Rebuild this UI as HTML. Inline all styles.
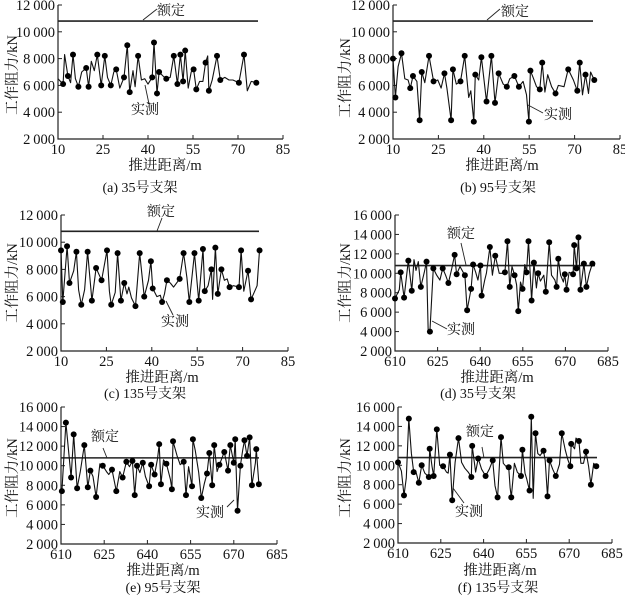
<!DOCTYPE html>
<html><head><meta charset="utf-8">
<style>
html,body{margin:0;padding:0;background:#fff;}
svg{display:block;}
text{font-family:"Liberation Serif","Noto Serif CJK SC",serif;fill:#111;}
</style></head>
<body>
<svg id="c" width="625" height="600" viewBox="0 0 625 600" xmlns="http://www.w3.org/2000/svg"></svg>
<script>
// data: [distance m, resistance kN, marker]
const seriesA=[[10,6500,0],[11.7,6100,1],[12.2,8300,0],[13.3,6700,1],[14.2,6200,0],[15,8300,1],[15.8,6500,0],[16.8,5900,1],[17.9,7000,0],[19.4,7300,1],[20.2,5900,1],[21.1,7800,0],[22.1,7100,0],[23.1,8300,1],[24.4,6000,1],[25.6,8200,1],[26.5,6600,0],[27.6,6000,1],[28.6,7000,0],[29.4,7200,1],[30.6,5800,0],[32,6600,1],[33.1,9000,1],[33.9,5500,1],[35,7100,0],[35.7,5900,0],[36.7,8200,1],[37.8,6400,0],[38.9,6500,0],[40,6100,0],[41.4,6600,1],[42,9200,1],[43,5400,1],[43.7,7000,1],[45,6700,0],[46.1,6500,1],[47.4,6600,0],[48.6,8200,1],[49.8,6100,1],[50.8,8300,1],[51.7,6300,1],[52.4,8600,1],[53.4,5800,0],[54.4,7000,0],[55.2,7200,1],[56.1,5700,1],[57.2,6300,0],[58.3,6300,0],[59.2,7700,1],[59.9,8200,0],[60.3,5600,1],[61.4,6400,0],[63,8200,1],[64.1,6400,1],[65.6,6600,0],[67,6400,0],[68.3,6400,0],[70.3,6200,1],[72,8300,1],[73.1,5600,0],[74.4,6300,0],[76.1,6200,1]];
const seriesB=[[10,8000,1],[10.8,5100,1],[11.7,7400,0],[12.8,8400,1],[13.9,6500,0],[15,6400,0],[15.7,5800,1],[16.6,6700,1],[17.9,6300,0],[18.8,3400,1],[19.5,7000,1],[20.5,6200,0],[21.9,8200,1],[23.4,6300,1],[24.8,6400,0],[25.9,5800,0],[27,6900,1],[27.8,5800,0],[29.2,3400,1],[29.8,7200,1],[30.9,6100,0],[32.3,6300,1],[33.7,8200,1],[35,5100,0],[35.7,5600,0],[36.7,3300,1],[37.2,6800,1],[38.3,6400,0],[39.2,8100,1],[40.9,4800,1],[42.5,8200,1],[43.7,4700,1],[44.9,6900,1],[46.4,6100,0],[47.6,5900,1],[48.6,6500,0],[50.1,6700,1],[51.6,5900,1],[53,6300,0],[54.1,5300,0],[54.9,3300,1],[55.4,7100,1],[56.3,6600,0],[57.4,5900,0],[58.5,5700,1],[59.3,7700,1],[60.2,5500,0],[61.1,6800,0],[62.4,5900,0],[63.7,5400,1],[64.6,6000,0],[66.5,5900,0],[67.9,7200,1],[69.6,6400,0],[70.9,5600,1],[71.7,7700,1],[72.6,5300,0],[73.6,6800,1],[74.6,5400,0],[75.3,7000,0],[76.5,6400,1]];
const seriesC=[[10,9400,1],[10.6,5600,1],[12,9700,1],[12.8,7000,1],[14.2,7900,0],[15.1,9300,1],[15.8,6500,0],[16.7,5400,1],[17.8,6500,0],[18.8,9300,1],[20.2,5700,1],[21.6,8100,1],[23.4,7200,1],[25.2,9400,1],[26,6400,0],[26.6,5400,1],[27.9,6300,0],[28.7,9200,1],[29.8,5700,1],[30.9,7000,1],[31.8,6200,0],[32.4,6700,0],[33.3,5900,0],[34.6,5300,1],[36,9200,1],[37.5,6000,1],[38.9,7200,0],[39.7,8600,1],[40.3,6600,1],[41.7,6000,0],[42.8,6100,0],[43.4,5600,1],[44.2,6200,0],[45,7200,1],[46.1,7000,0],[47.2,6700,0],[49.2,7300,1],[50.5,9200,1],[51.6,7400,0],[52.4,5600,1],[54.1,9200,1],[55.5,5700,1],[56.9,9500,1],[57.5,6400,1],[58.6,6800,0],[59.7,8000,1],[60.1,5800,0],[61,9600,1],[61.8,6200,1],[63,8000,1],[64,7200,0],[64.9,7300,0],[65.7,6700,1],[67,6800,0],[68.8,6700,1],[69.5,9400,1],[70.4,6400,0],[71.8,7900,1],[72.8,5800,1],[74,6400,0],[74.8,6800,0],[75.6,9400,1]];
const seriesD=[[610,7400,1],[611.5,8300,0],[612,10100,1],[613.2,7500,1],[614.7,11300,1],[615.9,8200,1],[616.7,11400,0],[617.4,10300,0],[618.2,11200,0],[619.1,8600,1],[620.3,10100,0],[621.1,11200,1],[621.7,4000,0],[622.3,4000,1],[623.5,10500,1],[624.7,9800,0],[625.8,9300,0],[626.8,10500,1],[627.8,9800,0],[628.8,9000,1],[630,10500,0],[631,11900,1],[631.7,9900,1],[632.9,10700,0],[633.8,10200,0],[634.6,9800,1],[635.4,6200,1],[636.8,8400,1],[637.5,10900,1],[638.4,10100,0],[639.2,9300,0],[640.1,10800,1],[640.5,7700,1],[641.6,9300,0],[642.2,10000,0],[643.4,12700,1],[644.3,9800,0],[645.3,11800,1],[646.7,10000,0],[648.1,10000,0],[648.7,10100,1],[649.6,13300,1],[650.4,8600,1],[651.2,10700,0],[652.1,9800,1],[652.8,8800,0],[653.4,6100,1],[654.2,9100,0],[654.9,8400,1],[655.7,10900,0],[656.3,10100,1],[657,13300,1],[658.1,7200,1],[658.9,11100,1],[659.8,8500,0],[660.4,10000,1],[661.2,9200,0],[662.4,9800,0],[663.1,8100,1],[664.3,13200,1],[665.1,9800,0],[666.3,9300,0],[666.9,8600,1],[667.5,11500,1],[668.3,9800,0],[669.3,9100,0],[669.8,9900,1],[670.4,8300,1],[671.3,10100,0],[672.7,9900,1],[673.1,12900,1],[673.9,10500,1],[674.6,13700,1],[675.3,8300,1],[676.5,11000,1],[677.4,8600,1],[678.4,10000,0],[679.5,11000,1]];
const seriesE=[[610.3,7400,1],[611.7,14400,1],[612.6,11600,0],[613.5,8800,1],[614.4,13200,1],[615.6,7700,1],[616.7,9400,0],[618.1,12100,1],[619.3,7800,1],[620.2,9500,1],[621.1,8900,0],[622.2,6800,1],[623.5,10200,0],[624.5,10000,1],[625.8,9400,0],[626.6,9100,0],[627.7,9600,1],[629.2,7400,1],[630.4,9400,0],[631.4,8800,1],[632.7,10400,1],[633.8,9900,0],[634.8,10500,1],[635.6,7000,1],[636.4,10000,1],[637.4,9300,0],[638.4,10300,1],[639.3,8900,0],[640.6,7900,1],[641.3,10100,1],[642.5,9100,1],[643.5,10700,0],[644.1,12200,1],[644.7,8100,1],[645.6,10600,0],[646.6,10200,1],[648,8600,0],[648.5,7600,1],[648.9,12500,1],[650.3,11000,0],[651.4,10100,0],[652.6,10400,1],[653.4,7000,1],[654.3,9900,0],[655.5,7900,1],[655.8,12700,1],[656.6,11600,0],[657.8,9300,0],[658.7,6700,1],[659.8,8200,0],[660.7,9200,1],[661.5,11300,1],[662.5,8000,1],[663.2,12100,1],[664.2,9400,0],[665,10100,1],[665.9,10800,0],[666.7,11400,1],[668,9500,1],[668.8,12100,1],[670,10300,1],[670.5,12700,1],[671.3,5400,1],[672.3,10000,1],[673.1,11600,0],[673.7,12600,1],[674.6,11000,1],[675.5,12900,1],[676.3,8000,1],[677.5,10300,0],[677.8,11700,1],[678.7,8100,1]];
const seriesF=[[610,10300,1],[611.2,9400,0],[612.1,6900,1],[612.9,8700,0],[613.8,14800,1],[614.7,11200,0],[615.5,9300,1],[616.4,9200,0],[617.3,8200,1],[618.3,10000,1],[619.4,9200,0],[620.8,8800,1],[621.1,11700,1],[621.9,9900,0],[622.5,8900,1],[623.6,13700,1],[624.6,10000,0],[625.8,9900,1],[627,9300,0],[627.6,9200,0],[628.2,11100,1],[629,6400,1],[630,10300,0],[631.2,12800,1],[632.3,10300,0],[633.4,9700,0],[634.6,9300,0],[635.7,8800,1],[636,12000,1],[637.2,9300,0],[638.1,10700,1],[639.3,9600,0],[640.7,8900,1],[642,9600,0],[643.2,10500,1],[644,7900,0],[644.9,6700,1],[646.1,12900,1],[646.9,10200,0],[647.8,9900,0],[648.8,9800,1],[649.3,7700,0],[649.7,6700,1],[650.8,10200,0],[651.8,9300,0],[653.1,8900,1],[653.6,11600,1],[654.5,9200,0],[655.1,8600,0],[656.1,7400,1],[656.7,15000,1],[657.4,6600,0],[658.2,13300,1],[659,11200,0],[659.8,11000,0],[661,11500,1],[661.6,10500,0],[662.4,6800,1],[663.1,10500,1],[664.2,9600,0],[665.3,8900,1],[666.6,10100,0],[667.4,13300,1],[668.6,11600,0],[669.5,10600,0],[670.4,9900,1],[670.7,12200,1],[671.9,11700,0],[672.4,12800,0],[673.4,12500,1],[674.1,10200,0],[675,10200,0],[675.9,11400,1],[676.8,9900,0],[677.6,8000,1],[678.6,10200,0],[679.5,9900,1]];
const ticksA=[2000,4000,6000,8000,10000,12000];
const ticksB=[2000,4000,6000,8000,10000,12000,14000,16000];
const xticksNear=[10,25,40,55,70,85];
const xticksFar=[610,625,640,655,670,685];
const ratedValue=10800;
const captions=["(a)  35号支架","(b)  95号支架","(c)  135号支架","(d)  35号支架","(e)  95号支架","(f)  135号支架"];

const NS="http://www.w3.org/2000/svg";
const svg=document.getElementById('c');
function mk(tag,attrs,parent){const e=document.createElementNS(NS,tag);for(const k in attrs)e.setAttribute(k,attrs[k]);(parent||svg).appendChild(e);return e;}
function fmt(v){const s=String(v);return s.length>3?s.slice(0,s.length-3)+"\u2009"+s.slice(-3):s;}

const panels=[
 {id:'a',data:seriesA,x0:58,w:225,yTop:5,yBot:139,ymax:12000,yt:ticksA,xt:xticksNear,ratedEnd:258,cap:[140,192],xtitle:[165,170],ytitle:[12,75],
  lblR:[171,15],ldR:[143,20,157,9],lblM:[145,114],ldM:[145,85,149,104]},
 {id:'b',data:seriesB,x0:393,w:227,yTop:5,yBot:139,ymax:12000,yt:ticksA,xt:xticksNear,ratedEnd:593,cap:[498,192],xtitle:[502,170],ytitle:[345,78],
  lblR:[515,16],ldR:[487,20,500,9],lblM:[558,119],ldM:[528,105,543,113]},
 {id:'c',data:seriesC,x0:61,w:227,yTop:215,yBot:351,ymax:12000,yt:ticksA,xt:xticksNear,ratedEnd:259,cap:[145,398],xtitle:[162,382],ytitle:[12,283],
  lblR:[161,216],ldR:[157,231,162,218],lblM:[175,326],ldM:[166,301,173,315]},
 {id:'d',data:seriesD,x0:395,w:213,yTop:215,yBot:351,ymax:16000,yt:ticksB,xt:xticksFar,ratedEnd:595,cap:[478,398],xtitle:[497,382],ytitle:[345,283],
  lblR:[461,238],ldR:[461,243,466,265],lblM:[461,334],ldM:[432,321,447,329]},
 {id:'e',data:seriesE,x0:61,w:216,yTop:407,yBot:544,ymax:16000,yt:ticksB,xt:xticksFar,ratedEnd:259,cap:[163,592],xtitle:[163,575],ytitle:[12,478],
  lblR:[105,441],ldR:[103,448,107,458],lblM:[210,517],ldM:[227,507,234,500]},
 {id:'f',data:seriesF,x0:398,w:214,yTop:407,yBot:543,ymax:16000,yt:ticksB,xt:xticksFar,ratedEnd:597,cap:[498,592],xtitle:[500,575],ytitle:[345,478],
  lblR:[480,436],ldR:[482,447,484,458],lblM:[469,516],ldM:[453,488,464,503]}
];

panels.forEach(p=>{
  const g=mk('g',{});
  
  
  const xmin=p.xt[0],xmax=p.xt[p.xt.length-1];
  const X=v=>p.x0+(v-xmin)/(xmax-xmin)*p.w;
  const Y=v=>p.yBot-(v-2000)/(p.ymax-2000)*(p.yBot-p.yTop);
  // axes
  const ax=mk('path',{d:`M${p.x0},${p.yTop} V${p.yBot} H${p.x0+p.w}`,fill:'none',stroke:'#222','stroke-width':1.2},g);
  
  
  p.yt.forEach(v=>{
    mk('line',{x1:p.x0,x2:p.x0+4,y1:Y(v),y2:Y(v),stroke:'#222','stroke-width':1},g);
    const t=mk('text',{x:p.x0-3,y:Y(v)+5,'text-anchor':'end','font-size':14.5},g);
    t.textContent=fmt(v);
    
    
  });
  p.xt.forEach(v=>{
    mk('line',{x1:X(v),x2:X(v),y1:p.yBot,y2:p.yBot-4,stroke:'#222','stroke-width':1},g);
    const t=mk('text',{x:X(v),y:p.yBot+15,'text-anchor':'middle','font-size':14.5},g);
    t.textContent=v;
    
    
  });
  // rated line
  const rl=mk('line',{x1:p.x0,x2:p.ratedEnd,y1:Y(ratedValue),y2:Y(ratedValue),stroke:'#222','stroke-width':1.6},g);
  
  
  // measured
  const d=p.data.map((q,i)=>(i?'L':'M')+X(q[0]).toFixed(1)+','+Y(q[1]).toFixed(1)).join(' ');
  const ml=mk('path',{d:d,fill:'none',stroke:'#111','stroke-width':1.1,'stroke-linejoin':'round'},g);
  
  
  p.data.forEach(q=>{ if(q[2]){
    const c=mk('circle',{cx:X(q[0]),cy:Y(q[1]),r:3,fill:'#000'},g);
    
    
  }});
  // annotations
  mk('line',{x1:p.ldR[0],y1:p.ldR[1],x2:p.ldR[2],y2:p.ldR[3],stroke:'#222','stroke-width':0.9},g);
  const tr=mk('text',{x:p.lblR[0],y:p.lblR[1],'text-anchor':'middle','font-size':14},g);
  tr.textContent='额定';
  
  
  mk('line',{x1:p.ldM[0],y1:p.ldM[1],x2:p.ldM[2],y2:p.ldM[3],stroke:'#222','stroke-width':0.9},g);
  const tm=mk('text',{x:p.lblM[0],y:p.lblM[1],'text-anchor':'middle','font-size':14},g);
  tm.textContent='实测';
  
  
  // titles
  const xt=mk('text',{x:p.xtitle[0],y:p.xtitle[1],'text-anchor':'middle','font-size':14.5},g);
  xt.textContent='推进距离/m';
  
  
  const yt=mk('text',{x:0,y:0,'text-anchor':'middle','font-size':14.5,transform:`translate(${p.ytitle[0]+5},${p.ytitle[1]}) rotate(-90)`},g);
  yt.textContent='工作阻力/kN';
  
  
  const cp=mk('text',{x:p.cap[0],y:p.cap[1],'text-anchor':'middle','font-size':14},g);
  cp.textContent=captions['abcdef'.indexOf(p.id)];
  
  
});
</script>
</body></html>
